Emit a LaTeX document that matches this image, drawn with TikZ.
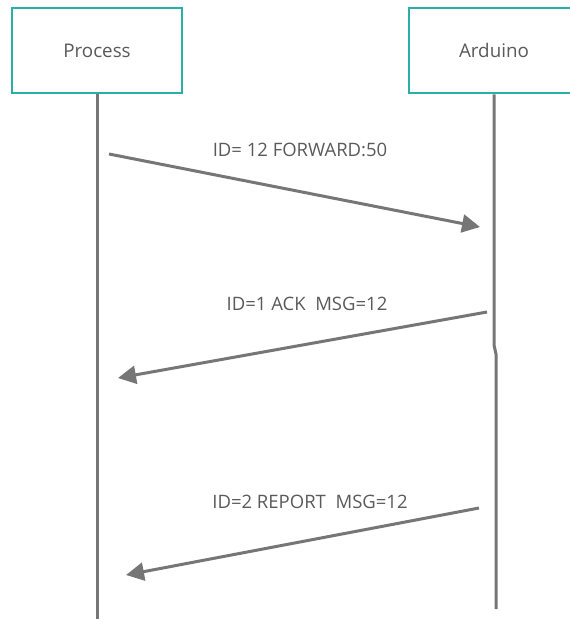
\documentclass[tikz,border=0pt]{standalone}
\usepackage{fontspec}
\setmainfont{Open Sans}
\usetikzlibrary{arrows.meta}
\definecolor{teal1}{HTML}{2AAFA8}
\definecolor{line1}{HTML}{767676}
\definecolor{txt1}{HTML}{5A5A5A}
\begin{document}
\begin{tikzpicture}[x=1pt,y=-1pt,
  actor/.style={draw=teal1,line width=2.6pt,fill=white,minimum width=170pt,minimum height=85pt,inner sep=0pt,text=txt1,font=\fontsize{18.8}{22}\selectfont},
  life/.style={draw=line1,line width=3pt},
  msg/.style={draw=line1,line width=3pt,-{Triangle[length=18pt,width=18pt]}},
  lbl/.style={text=txt1,font=\fontsize{18.5}{22}\selectfont,inner sep=0pt}]
\useasboundingbox (0,0) rectangle (570,619);
\node[actor] (p) at (97,50.5) {Process};
\node[actor] (a) at (494,50.5) {Arduino};
\coordinate (pend) at (97,619);
\coordinate (ak1) at (494,345);
\coordinate (ak2) at (496,354);
\coordinate (aend) at (496,609);
\draw[life] (p.south) -- (pend);
\draw[life] (a.south) -- (ak1) -- (ak2) -- (aend);
\coordinate (m1s) at (109,154);
\coordinate (m1e) at (480,227);
\coordinate (m2s) at (487,312);
\coordinate (m2e) at (118,378);
\coordinate (m3s) at (479,508);
\coordinate (m3e) at (126,575);
\draw[msg] (m1s) -- (m1e);
\draw[msg] (m2s) -- (m2e);
\draw[msg] (m3s) -- (m3e);
\node[lbl] (l1) at (300,150) {ID= 12 FORWARD:50};
\node[lbl] (l2) at (307,304) {ID=1 ACK\ \ MSG=12};
\node[lbl] (l3) at (310,502) {ID=2 REPORT\ \ MSG=12};
\end{tikzpicture}
\end{document}
